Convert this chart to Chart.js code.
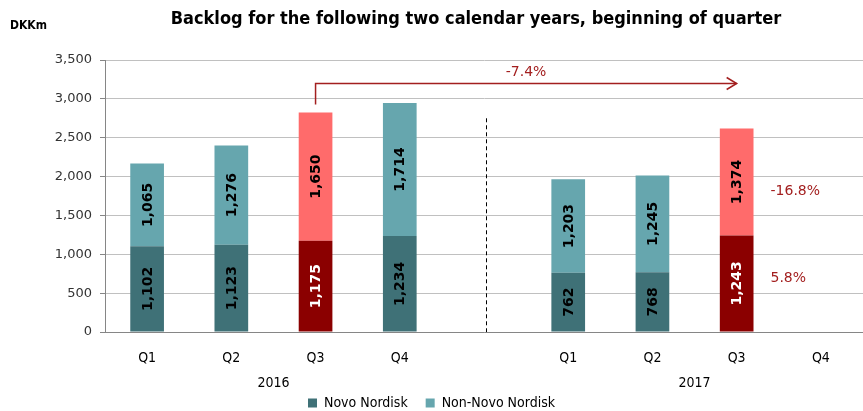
<!DOCTYPE html>
<html lang="en">
<head>
  <meta charset="UTF-8" />
  <title>Backlog</title>
  <script src="https://cdn.jsdelivr.net/npm/chart.js"></script>
  <style>
    html, body { margin: 0; padding: 0; background: #fff; }
    #wrap { width: 863px; height: 411px; }
  </style>
</head>
<body>
<div id="wrap"><canvas id="chart"></canvas></div>
<script>
// data
const quarters = ['Q1', 'Q2', 'Q3', 'Q4', '', 'Q1', 'Q2', 'Q3', 'Q4'];
const yearOfQuarter = [0, 0, 0, 0, null, 1, 1, 1, 1];
const years = ['2016', '2017'];
const novoNordisk = [1102, 1123, 1175, 1234, null, 762, 768, 1243, null];
const nonNovoNordisk = [1065, 1276, 1650, 1714, null, 1203, 1245, 1374, null];
const yTicks = [0, 500, 1000, 1500, 2000, 2500, 3000, 3500];
const highlighted = [2, 7];          // Q3 2016 vs Q3 2017
const changeTotal = '-7.4%';
const changeNonNovo = '-16.8%';
const changeNovo = '5.8%';
const arrowLevel = 3200;             // DKKm level of the comparison arrow
const dividerTop = 2750;             // top of the dashed year divider
const dividerIndex = 4;

const DARK = '#3f7177', LIGHT = '#66a6ae', RED = '#8b0000', SALMON = '#ff6b6b', NOTE = '#a31f1f';
const SANS = "'DejaVu Sans', Verdana, sans-serif";
const COND = "'DejaVu Sans Condensed', 'DejaVu Sans', sans-serif";

const colorsFor = (base, hi) => quarters.map((_, i) => highlighted.includes(i) ? hi : base);
const fmt = v => v.toLocaleString('en-US');

const extras = {
  id: 'extras',
  afterDatasetsDraw(chart) {
    const { ctx, scales: { x, y }, chartArea } = chart;
    ctx.save();

    // values inside the bars
    chart.data.datasets.forEach((ds, d) => {
      chart.getDatasetMeta(d).data.forEach((bar, i) => {
        const v = ds.data[i];
        if (v == null) return;
        ctx.save();
        ctx.translate(bar.x, (bar.y + bar.base) / 2);
        ctx.rotate(-Math.PI / 2);
        ctx.font = 'bold 14px ' + SANS;
        ctx.fillStyle = (d === 0 && highlighted.includes(i)) ? '#fff' : '#000';
        ctx.textAlign = 'center';
        ctx.textBaseline = 'middle';
        ctx.fillText(fmt(v), 0, 1);
        ctx.restore();
      });
    });

    // dashed divider between the years
    const dx = x.getPixelForValue(dividerIndex) + 2;
    ctx.strokeStyle = '#000';
    ctx.lineWidth = 1;
    ctx.setLineDash([4, 3]);
    ctx.beginPath();
    ctx.moveTo(Math.round(dx) + 0.5, y.getPixelForValue(dividerTop));
    ctx.lineTo(Math.round(dx) + 0.5, y.getPixelForValue(0));
    ctx.stroke();
    ctx.setLineDash([]);

    // arrow Q3 2016 -> Q3 2017
    const [a, b] = highlighted;
    const ax = x.getPixelForValue(a), bx = x.getPixelForValue(b);
    const topA = y.getPixelForValue(novoNordisk[a] + nonNovoNordisk[a]) - 8;
    const ly = Math.round(y.getPixelForValue(arrowLevel)) + 0.5;
    ctx.strokeStyle = NOTE;
    ctx.lineWidth = 1.5;
    ctx.beginPath();
    ctx.moveTo(ax, topA);
    ctx.lineTo(ax, ly);
    ctx.lineTo(bx, ly);
    ctx.stroke();
    ctx.beginPath();
    ctx.moveTo(bx - 10, ly - 6);
    ctx.lineTo(bx, ly);
    ctx.lineTo(bx - 10, ly + 6);
    ctx.stroke();

    ctx.fillStyle = NOTE;
    ctx.font = '14px ' + SANS;
    ctx.textAlign = 'center';
    ctx.textBaseline = 'bottom';
    ctx.fillText(changeTotal, (ax + bx) / 2, ly - 4);

    // changes next to Q3 2017
    const meta0 = chart.getDatasetMeta(0).data[b], meta1 = chart.getDatasetMeta(1).data[b];
    const rx = meta0.x + meta0.width / 2 + 17;
    ctx.textAlign = 'left';
    ctx.textBaseline = 'middle';
    ctx.fillText(changeNonNovo, rx, (meta1.y + meta1.base) / 2 + 9);
    ctx.fillText(changeNovo, rx, (meta0.y + meta0.base) / 2 - 5);

    // year labels under the quarters
    ctx.fillStyle = '#000';
    ctx.font = '14px ' + COND;
    ctx.textAlign = 'center';
    years.forEach((yr, k) => {
      const idx = yearOfQuarter.map((v, i) => v === k ? i : -1).filter(i => i >= 0);
      const cx = idx.reduce((s, i) => s + x.getPixelForValue(i), 0) / idx.length;
      ctx.fillText(yr, cx, chartArea.bottom + 51);
    });

    // title and unit
    ctx.font = 'bold 18px ' + COND;
    ctx.textBaseline = 'middle';
    ctx.fillText('Backlog for the following two calendar years, beginning of quarter', (chartArea.left + chartArea.right) / 2 - 8, 19);
    ctx.font = 'bold 12px ' + COND;
    ctx.textAlign = 'left';
    ctx.fillText('DKKm', 10, 26);

    ctx.restore();
  }
};

new Chart(document.getElementById('chart'), {
  type: 'bar',
  data: {
    labels: quarters,
    datasets: [
      { label: 'Novo Nordisk', data: novoNordisk, backgroundColor: colorsFor(DARK, RED), borderWidth: 0 },
      { label: 'Non-Novo Nordisk', data: nonNovoNordisk, backgroundColor: colorsFor(LIGHT, SALMON), borderWidth: 0 }
    ]
  },
  options: {
    responsive: true,
    maintainAspectRatio: false,
    animation: false,
    events: [],
    layout: { padding: { top: 60, left: 0, right: 0, bottom: -9 } },
    datasets: { bar: { categoryPercentage: 0.5, barPercentage: 0.8 } },
    plugins: {
      title: { display: false },
      tooltip: { enabled: false },
      legend: {
        position: 'bottom',
        labels: {
          boxWidth: 9, boxHeight: 9, padding: 18, color: '#000',
          font: { family: COND, size: 14 }
        }
      }
    },
    scales: {
      x: {
        stacked: true,
        grid: { display: false },
        border: { display: true, color: '#868686' },
        ticks: { color: '#000', padding: 10, font: { family: COND, size: 14 } },
        afterFit: s => { s.height = 46; }
      },
      y: {
        stacked: true,
        min: 0,
        max: yTicks[yTicks.length - 1],
        afterBuildTicks: s => { s.ticks = yTicks.map(v => ({ value: v })); },
        grid: { color: '#c0c0c0', tickColor: '#868686', tickLength: 5 },
        border: { display: true, color: '#868686' },
        ticks: { color: '#333', padding: 8, font: { family: SANS, size: 13 }, callback: v => fmt(v) },
        afterFit: s => { s.width = 105; }
      }
    }
  },
  plugins: [extras]
});
</script>
</body>
</html>
